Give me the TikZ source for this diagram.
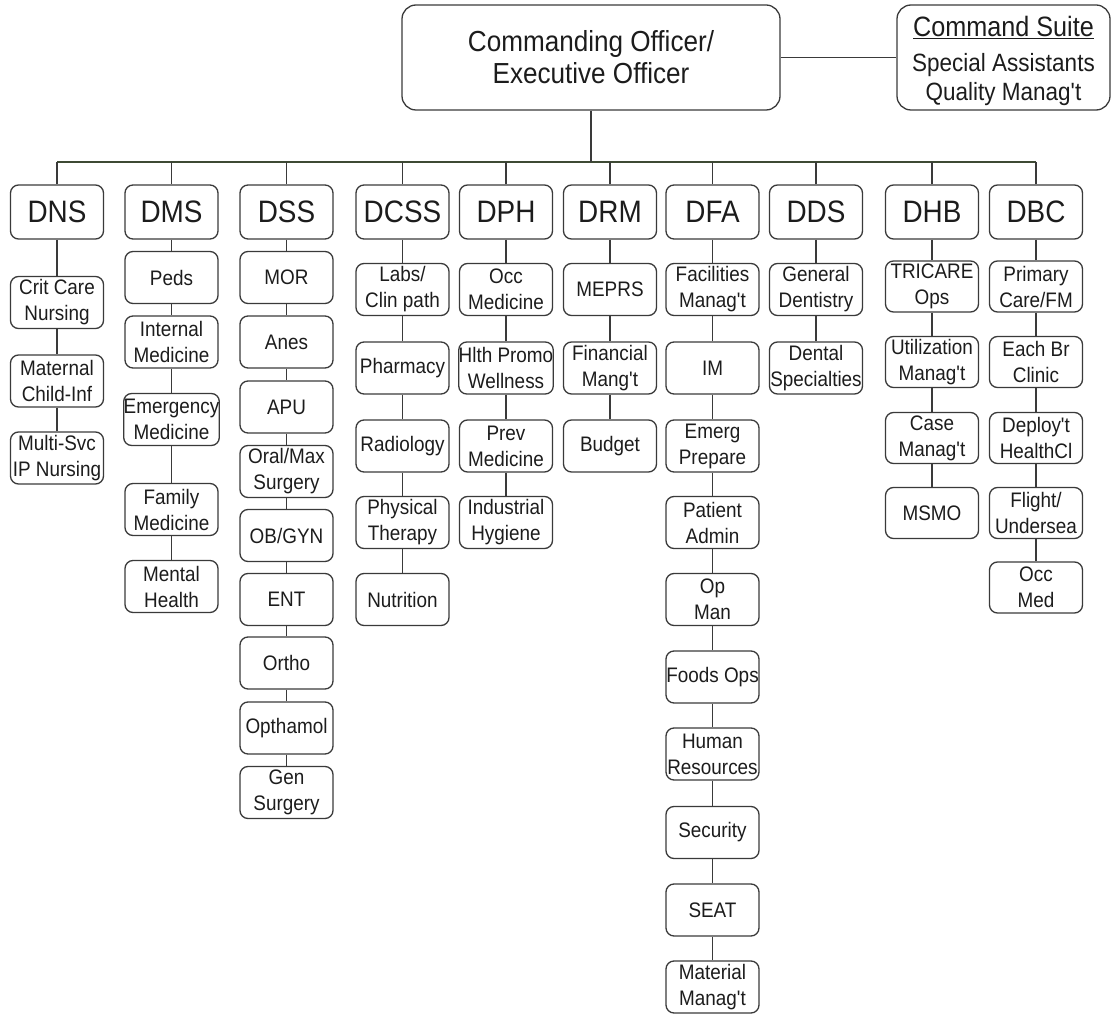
\documentclass[tikz,border=0pt]{standalone}
\usepackage{fontspec}
\newfontfamily\af[FakeStretch=0.9]{Liberation Sans}
\definecolor{ink}{HTML}{1C1C1C}
\definecolor{rule}{HTML}{3A3A3A}
\definecolor{busline}{HTML}{3E4A34}
\begin{document}
\begin{tikzpicture}[x=1pt,y=-1pt,
  box/.style={draw=rule, line width=1.3pt, rounded corners=8pt, align=center,
    inner sep=0pt, text=ink, minimum width=93pt},
  top/.style={box, rounded corners=14pt, font=\af\fontsize{29}{32}\selectfont},
  div/.style={box, minimum height=54pt, font=\af\fontsize{31}{34}\selectfont},
  sub/.style={box, minimum height=52pt, font=\af\fontsize{21}{26}\selectfont},
  subs/.style={sub, minimum height=51pt},
  link/.style={draw=rule, line width=1.3pt}]
\useasboundingbox (0,0) rectangle (1112,1016);

% command level
\node[top, minimum width=378pt, minimum height=105pt] (co) at (591,57.5)
  {Commanding Officer/\\Executive Officer};
\node[top, minimum width=213pt, minimum height=105pt, font=\af\fontsize{25}{29}\selectfont] (cs) at (1003.5,57.5)
  {\rule{0pt}{27pt}{\fontsize{28}{31}\selectfont\underline{Command Suite}}\\[6pt]
   Special Assistants\\[0pt]
   Quality Manag't};
\draw[link] (co) -- (cs);

% directorates
\node[div] (dns)  at (57,212)    {DNS};
\node[div] (dms)  at (171.5,212) {DMS};
\node[div] (dss)  at (286.5,212) {DSS};
\node[div] (dcss) at (402.5,212) {DCSS};
\node[div] (dph)  at (506,212)   {DPH};
\node[div] (drm)  at (610,212)   {DRM};
\node[div] (dfa)  at (712.5,212) {DFA};
\node[div] (dds)  at (816,212)   {DDS};
\node[div] (dhb)  at (932,212)   {DHB};
\node[div] (dbc)  at (1036,212)  {DBC};

% distribution bus
\coordinate (busL) at (57,162);
\coordinate (busR) at (1036,162);
\draw[link, draw=busline] (busL) -- (busR);
\draw[link] (co.south) -- (co.south |- busL);
\foreach \d in {dns,dms,dss,dcss,dph,drm,dfa,dds,dhb,dbc}
  \draw[link] (\d.north) -- (\d.north |- busL);

% DNS
\node[sub] (n1) at (57,302.5) {Crit Care\\Nursing};
\node[sub] (n2) at (57,381)   {Maternal\\Child-Inf};
\node[sub] (n3) at (57,458)   {Multi-Svc\\IP Nursing};
\draw[link] (dns) -- (n1) -- (n2) -- (n3);

% DMS
\node[sub] (m1) at (171.5,277.5) {Peds};
\node[sub] (m2) at (171.5,342)   {Internal\\Medicine};
\node[sub] (m3) at (171.5,419.5) {Emergency\\Medicine};
\node[sub] (m4) at (171.5,509.5) {Family\\Medicine};
\node[sub] (m5) at (171.5,586.5) {Mental\\Health};
\draw[link] (dms) -- (m1) -- (m2) -- (m3) -- (m4) -- (m5);

% DSS
\node[sub] (s1) at (286.5,277.5) {MOR};
\node[sub] (s2) at (286.5,342)   {Anes};
\node[sub] (s3) at (286.5,407)   {APU};
\node[sub] (s4) at (286.5,471.5) {Oral/Max\\Surgery};
\node[sub] (s5) at (286.5,535.5) {OB/GYN};
\node[sub] (s6) at (286.5,599.5) {ENT};
\node[sub] (s7) at (286.5,663)   {Ortho};
\node[sub] (s8) at (286.5,728)   {Opthamol};
\node[sub] (s9) at (286.5,792.5) {Gen\\Surgery};
\draw[link] (dss) -- (s1) -- (s2) -- (s3) -- (s4) -- (s5) -- (s6) -- (s7) -- (s8) -- (s9);

% DCSS
\node[sub] (c1) at (402.5,289.5) {Labs/\\Clin path};
\node[sub] (c2) at (402.5,368)   {Pharmacy};
\node[sub] (c3) at (402.5,446)   {Radiology};
\node[sub] (c4) at (402.5,522.5) {Physical\\Therapy};
\node[sub] (c5) at (402.5,599.5) {Nutrition};
\draw[link] (dcss) -- (c1) -- (c2) -- (c3) -- (c4) -- (c5);

% DPH
\node[sub] (p1) at (506,289.5) {Occ\\Medicine};
\node[sub] (p2) at (506,368)   {Hlth Promo\\Wellness};
\node[sub] (p3) at (506,446)   {Prev\\Medicine};
\node[sub] (p4) at (506,522.5) {Industrial\\Hygiene};
\draw[link] (dph) -- (p1) -- (p2) -- (p3) -- (p4);

% DRM
\node[sub] (r1) at (610,289.5) {MEPRS};
\node[sub] (r2) at (610,368)   {Financial\\Mang't};
\node[sub] (r3) at (610,446)   {Budget};
\draw[link] (drm) -- (r1) -- (r2) -- (r3);

% DFA
\node[sub] (f1)  at (712.5,289.5) {Facilities\\Manag't};
\node[sub] (f2)  at (712.5,368)   {IM};
\node[sub] (f3)  at (712.5,446)   {Emerg\\Prepare};
\node[sub] (f4)  at (712.5,522.5) {Patient\\Admin};
\node[sub] (f5)  at (712.5,599.5) {Op\\Man};
\node[sub] (f6)  at (712.5,677)   {Foods Ops};
\node[sub] (f7)  at (712.5,754)   {Human\\Resources};
\node[sub] (f8)  at (712.5,832.5) {Security};
\node[sub] (f9)  at (712.5,910)   {SEAT};
\node[sub] (f10) at (712.5,987)   {Material\\Manag't};
\draw[link] (dfa) -- (f1) -- (f2) -- (f3) -- (f4) -- (f5) -- (f6) -- (f7) -- (f8) -- (f9) -- (f10);

% DDS
\node[sub] (d1) at (816,289.5) {General\\Dentistry};
\node[sub] (d2) at (816,368)   {Dental\\Specialties};
\draw[link] (dds) -- (d1) -- (d2);

% DHB
\node[subs] (h1) at (932,286.5) {TRICARE\\Ops};
\node[subs] (h2) at (932,362)   {Utilization\\Manag't};
\node[subs] (h3) at (932,438)   {Case\\Manag't};
\node[subs] (h4) at (932,513)   {MSMO};
\draw[link] (dhb) -- (h1) -- (h2) -- (h3) -- (h4);

% DBC
\node[subs] (b1) at (1036,286.5) {Primary\\Care/FM};
\node[subs] (b2) at (1036,362)   {Each Br\\Clinic};
\node[subs] (b3) at (1036,438)   {Deploy't\\HealthCl};
\node[subs] (b4) at (1036,513)   {Flight/\\Undersea};
\node[subs] (b5) at (1036,587.5) {Occ\\Med};
\draw[link] (dbc) -- (b1) -- (b2) -- (b3) -- (b4) -- (b5);
\end{tikzpicture}
\end{document}
